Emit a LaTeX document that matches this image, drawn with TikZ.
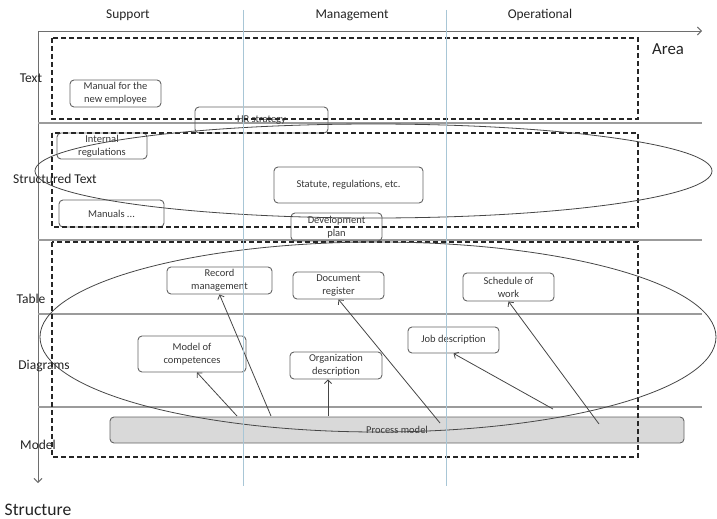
\documentclass[tikz,border=0pt]{standalone}
\usepackage{fontspec}
\setmainfont{Carlito}
\usetikzlibrary{arrows.meta}

\definecolor{axisgray}{RGB}{110,110,110}
\definecolor{sepgray}{RGB}{155,155,155}
\definecolor{boxgray}{RGB}{100,100,100}
\definecolor{textgray}{RGB}{55,55,55}
\definecolor{labelgray}{RGB}{35,35,35}
\definecolor{loopgray}{RGB}{70,70,70}
\definecolor{colblue}{RGB}{168,198,214}
\definecolor{procgray}{RGB}{217,217,217}

\begin{document}
\begin{tikzpicture}
            [x=1pt, y=-1pt,
             docbox/.style={draw=boxgray, line width=0.9pt, rounded corners=4pt, align=center, inner sep=0pt,
                            text=textgray, font=\fontsize{10.5}{13}\selectfont},
             sepline/.style={draw=sepgray, line width=1.2pt},
             dashbox/.style={draw=black!85, line width=1.1pt, dash pattern=on 5pt off 3pt},
             bigloop/.style={draw=loopgray, line width=0.8pt},
             colline/.style={draw=colblue, line width=1pt},
             feed/.style={draw=loopgray, line width=0.8pt, -{Straight Barb[length=3.5pt,width=7pt]}},
             axisline/.style={draw=axisgray, line width=0.9pt, -{Straight Barb[length=4pt,width=8pt]}},
             colhead/.style={font=\fontsize{13.4}{16}\selectfont, text=labelgray},
             rowhead/.style={font=\fontsize{13.5}{16}\selectfont, text=labelgray, inner sep=0pt}]
            % Fix the page size
            \useasboundingbox (0,0) rectangle (717,519);

            % Draw the axes
            \coordinate (origin) at (38,31);
            \coordinate (areaend) at (702,31);
            \coordinate (structend) at (38,483);
            \draw[axisline] (origin) -- (areaend);
            \draw[axisline] (origin) -- (structend);

            % Row separators
            \foreach \y in {123,240,314,407}
                \draw[sepline] (38,\y) -- (702,\y);

            % Column and row headings
            \node[colhead] (support) at (128,15) {Support};
            \node[colhead] (management) at (352,15) {Management};
            \node[colhead] (operational) at (540,15) {Operational};
            \node[font=\fontsize{16.8}{20}\selectfont, text=labelgray] (area) at (668,49) {Area};
            \node[font=\fontsize{17.6}{21}\selectfont, text=labelgray] (structure) at (38,510) {Structure};
            \node[rowhead] (text) at (31,78) {Text};
            \node[rowhead] (structtext) at (55,179) {Structured Text};
            \node[rowhead] (table) at (31,299) {Table};
            \node[rowhead] (diagrams) at (44,366) {Diagrams};
            \node[rowhead] (model) at (38,445) {Model};

            % Documents
            \node[docbox, minimum width=91, minimum height=27] (manual) at (115.5,93.5) {Manual for the\\new employee};
            \node[docbox, minimum width=133, minimum height=26] (hrstrat) at (261.5,120) {HR strategy};
            \node[docbox, minimum width=90, minimum height=26] (intreg) at (102,146) {Internal\\regulations};
            \node[docbox, minimum width=149, minimum height=36] (statute) at (348.5,185) {Statute, regulations, etc.};
            \node[docbox, minimum width=105, minimum height=27] (manuals) at (111.5,213.5) {Manuals ...};
            \node[docbox, minimum width=91, minimum height=28] (devplan) at (336.5,227) {Development\\plan};
            \node[docbox, minimum width=105, minimum height=27] (record) at (219.5,280.5) {Record\\management};
            \node[docbox, minimum width=91, minimum height=27] (docreg) at (338.5,285.5) {Document\\register};
            \node[docbox, minimum width=91, minimum height=28] (schedule) at (508.5,287) {Schedule of\\work};
            \node[docbox, minimum width=108, minimum height=36] (modelc) at (192,354) {Model of\\competences};
            \node[docbox, minimum width=92, minimum height=27] (orgdesc) at (336,365.5) {Organization\\description};
            \node[docbox, minimum width=91, minimum height=26] (jobdesc) at (453.5,340) {Job description};
            \node[docbox, fill=procgray, minimum width=574, minimum height=26] (process) at (397,430) {Process model};

            % Links from the process model
            \coordinate (t1) at (271,416);
            \coordinate (t2) at (237,416);
            \coordinate (t3) at (328,416);
            \coordinate (t4) at (440,423);
            \coordinate (t5) at (553,409);
            \coordinate (t6) at (599,424);
            \draw[feed] (t1) -- (record.south);
            \draw[feed] (t2) -- ([xshift=5]modelc.south);
            \draw[feed] (t3) -- (t3 |- orgdesc.south);
            \draw[feed] (t4) -- (docreg.south);
            \draw[feed] (t5) -- (jobdesc.south);
            \draw[feed] (t6) -- (schedule.south);

            % Dashed areas
            \draw[dashbox] (52,38) rectangle (638,119);
            \draw[dashbox] (52,133) rectangle (638,227);
            \draw[dashbox] (52,242) rectangle (638,457);

            % Groupings
            \draw[bigloop] (373.5,171) ellipse [x radius=338.5, y radius=47];
            \draw[bigloop] (378,337) ellipse [x radius=338, y radius=95];

            % Column borders
            \foreach \x in {243,446}
                \draw[colline] (\x,10) -- (\x,486);
        \end{tikzpicture}
\end{document}
